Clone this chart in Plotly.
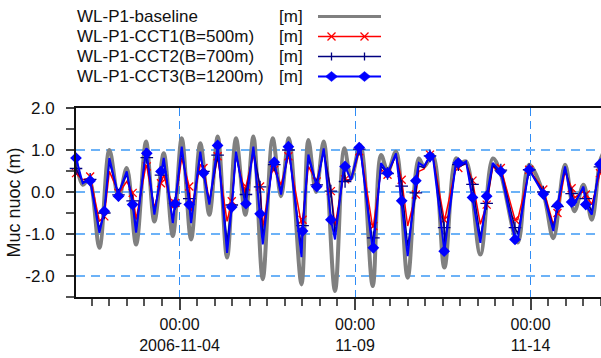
import plotly.graph_objects as go
import pandas as pd

# ---------------- data ----------------
ext_times = [
    "2006-11-01 01:12", "2006-11-01 05:48", "2006-11-01 10:06", "2006-11-01 17:12",
    "2006-11-02 00:00", "2006-11-02 06:24", "2006-11-02 11:54", "2006-11-02 18:18",
    "2006-11-03 01:06", "2006-11-03 06:48", "2006-11-03 13:12", "2006-11-03 19:24",
    "2006-11-04 01:30", "2006-11-04 07:54", "2006-11-04 14:12", "2006-11-04 20:24",
    "2006-11-05 02:06", "2006-11-05 08:30", "2006-11-05 14:36", "2006-11-05 21:00",
    "2006-11-06 02:30", "2006-11-06 08:54", "2006-11-06 15:42", "2006-11-06 21:24",
    "2006-11-07 02:42", "2006-11-07 11:24", "2006-11-07 16:06", "2006-11-07 21:18",
    "2006-11-08 02:36", "2006-11-08 10:18", "2006-11-08 16:42", "2006-11-08 21:18",
    "2006-11-09 03:36", "2006-11-09 12:06", "2006-11-09 17:48", "2006-11-09 22:24",
    "2006-11-10 04:00", "2006-11-10 12:00", "2006-11-10 19:36", "2006-11-10 23:12",
    "2006-11-11 05:06", "2006-11-11 13:06", "2006-11-11 21:06", "2006-11-12 00:30",
    "2006-11-12 03:54", "2006-11-12 13:42", "2006-11-12 22:12", "2006-11-13 03:12",
    "2006-11-13 15:18", "2006-11-13 23:00", "2006-11-14 08:54", "2006-11-14 15:36",
    "2006-11-14 23:36", "2006-11-15 06:00", "2006-11-15 12:12", "2006-11-15 17:54",
    "2006-11-15 23:30", "2006-11-16 02:00",
]
baseline = [
    0.77, 0.17, 0.30, -1.33, 1.00, -0.14, 0.57, -1.25,
    1.20, -0.70, 0.92, -1.05, 1.28, -1.13, 1.16, -0.54,
    1.32, -1.56, 1.28, -0.54, 1.32, -2.08, 1.28, -0.10,
    1.28, -2.20, 1.24, 0.00, 1.20, -2.36, 1.04, 0.33,
    1.12, -2.24, 0.88, 0.49, 0.96, -2.04, 0.80, 0.60,
    0.88, -1.80, 0.80, 0.70, 0.73, -1.49, 0.80, 0.49,
    -1.20, 0.65, -0.05, -1.10, 0.65, -0.46, 0.17, -0.66,
    0.73, 0.95,
]
cct1 = [
    0.45, 0.29, 0.33, -0.70, 0.49, -0.02, 0.25, -0.66,
    0.65, -0.38, 0.41, -0.38, 0.81, -0.46, 0.65, -0.22,
    0.81, -0.70, 0.89, -0.06, 0.89, -0.85, 0.61, 0.17,
    0.89, -0.77, 0.61, 0.25, 0.96, -0.81, 0.49, 0.29,
    1.04, -0.85, 0.53, 0.41, 0.89, -0.81, 0.49, 0.55,
    0.89, -0.70, 0.61, 0.62, 0.69, -0.77, 0.61, 0.45,
    -0.66, 0.49, 0.05, -0.77, 0.49, -0.14, 0.02, -0.30,
    0.49, 0.65,
]
cct2 = [
    0.60, 0.24, 0.30, -0.88, 0.72, 0.00, 0.42, -0.88,
    0.94, -0.48, 0.72, -0.66, 0.98, -0.68, 0.88, -0.26,
    1.02, -1.20, 0.90, -0.22, 1.00, -1.10, 0.72, 0.02,
    1.00, -1.35, 0.80, 0.18, 0.98, -1.00, 0.62, 0.30,
    1.00, -1.22, 0.62, 0.43, 0.88, -1.30, 0.62, 0.58,
    0.86, -1.22, 0.68, 0.62, 0.70, -1.08, 0.64, 0.47,
    -1.00, 0.53, 0.00, -0.85, 0.57, -0.24, 0.10, -0.46,
    0.66, 0.82,
]
cct3 = [
    0.81, 0.21, 0.29, -0.97, 0.81, -0.02, 0.49, -0.97,
    1.04, -0.54, 0.81, -0.74, 1.08, -0.74, 0.96, -0.30,
    1.12, -1.45, 0.96, -0.30, 1.08, -1.25, 0.77, -0.06,
    1.08, -1.55, 0.89, 0.13, 1.04, -1.13, 0.69, 0.29,
    1.06, -1.41, 0.69, 0.45, 0.92, -1.53, 0.69, 0.61,
    0.89, -1.41, 0.73, 0.65, 0.73, -1.21, 0.69, 0.49,
    -1.13, 0.57, -0.05, -0.93, 0.61, -0.30, 0.13, -0.54,
    0.73, 0.90,
]

# marker positions (evenly spaced along the time axis, as in the picture)
marker_times = pd.date_range("2006-11-01 01:12", periods=38, freq="581min")
cct1_markers = [
    0.45, 0.37, -0.58, -0.02, -0.02, 0.61, 0.21, -0.26, 0.13, 0.57,
    0.85, -0.22, 0.13, 0.13, 0.53, 0.85, -0.66, 0.25, 0.02, 0.30,
    0.97, -0.81, 0.41, 0.29, -0.06, 0.89, -0.66, 0.57, 0.27, -0.30,
    0.57, -0.66, 0.53, 0.06, -0.50, 0.09, -0.06, 0.45,
]
cct2_markers = [
    0.56, 0.30, -0.50, -0.07, -0.21, 0.82, 0.40, -0.27, -0.16, 0.49,
    0.88, -0.31, -0.06, 0.12, 0.65, 1.00, -0.80, 0.17, 0.02, 0.25,
    1.02, -1.09, 0.44, 0.14, -0.02, 0.86, -0.85, 0.65, 0.18, -0.27,
    0.52, -0.85, 0.53, 0.00, -0.35, -0.04, -0.16, 0.60,
]
cct3_markers = [
    0.81, 0.27, -0.46, -0.10, -0.30, 0.92, 0.49, -0.28, -0.30, 0.45,
    1.11, -0.36, -0.28, -0.52, 0.71, 1.08, -0.93, 0.13, -0.66, 0.61,
    1.06, -1.33, 0.45, -0.21, 0.27, 0.85, -1.41, 0.69, -0.13, -0.10,
    0.49, -1.13, 0.53, -0.05, -0.32, -0.24, -0.30, 0.66,
]

series_names = ["WL-P1-baseline", "WL-P1-CCT1(B=500m)",
                "WL-P1-CCT2(B=700m)", "WL-P1-CCT3(B=1200m)"]
unit_label = "[m]"
y_title = "Muc nuoc (m)"
x_tick_vals = ["2006-11-04", "2006-11-09", "2006-11-14"]
x_tick_text = ["00:00<br>2006-11-04", "00:00<br>11-09", "00:00<br>11-14"]
y_tick_vals = [-2, -1, 0, 1, 2]
y_tick_text = ["-2.0", "-1.0", "0.0", "1.0", "2.0"]
x_range = ["2006-11-01 01:12", "2006-11-16 00:12"]
y_range = [-2.5, 2.0]

# ---------------- styling ----------------
FONT = "Liberation Sans, Arial, sans-serif"
C_BASE, C1, C2, C3 = "#808080", "#ff0000", "#000080", "#0000ff"


def merged(times, vals, mtimes, mvals):
    df = pd.DataFrame({"t": list(pd.to_datetime(times)) + list(mtimes),
                       "v": list(vals) + list(mvals)}).sort_values("t")
    return df["t"], df["v"]


fig = go.Figure()
fig.add_trace(go.Scatter(x=pd.to_datetime(ext_times), y=baseline, mode="lines",
                         line=dict(color=C_BASE, width=4, shape="spline", smoothing=1.0),
                         showlegend=False))
for vals, mvals, col, lw, sym, msize, mlw in [
    (cct1, cct1_markers, C1, 1.5, "x-thin", 8, 1.3),
    (cct2, cct2_markers, C2, 1.5, "cross-thin", 9, 1.3),
    (cct3, cct3_markers, C3, 2, "diamond", 9, 0),
]:
    tx, vy = merged(ext_times, vals, marker_times, mvals)
    fig.add_trace(go.Scatter(x=tx, y=vy, mode="lines",
                             line=dict(color=col, width=lw), showlegend=False))
    fig.add_trace(go.Scatter(x=marker_times, y=mvals, mode="markers", cliponaxis=False,
                             marker=dict(symbol=sym, size=msize, color=col,
                                         line=dict(color=col, width=mlw)),
                             showlegend=False))

# plot-area geometry in pixels (for legend placement)
L, R, T, B = 76, 601, 108, 297
W, H = 601, 358


def px(x):
    return (x - L) / (R - L)


def py(y):
    return (B - y) / (B - T)


shapes = []
annotations = []
row_y = [16.5, 36.5, 56.5, 76.5]
line_cols = [C_BASE, C1, C2, C3]
line_w = [3, 1.5, 1.5, 2]
for i, name in enumerate(series_names):
    yy = row_y[i]
    annotations.append(dict(x=px(75), y=py(yy), xref="paper", yref="paper", text=name,
                            showarrow=False, xanchor="left", yanchor="middle",
                            font=dict(size=17, color="#111", family=FONT)))
    annotations.append(dict(x=px(277), y=py(yy), xref="paper", yref="paper", text=unit_label,
                            showarrow=False, xanchor="left", yanchor="middle",
                            font=dict(size=17, color="#111", family=FONT)))
    shapes.append(dict(type="line", xref="paper", yref="paper", x0=px(318), x1=px(381),
                       y0=py(yy), y1=py(yy), line=dict(color=line_cols[i], width=line_w[i])))
    for cx in (331.5, 364.5):
        if i == 1:
            for dy in (-4, 4):
                shapes.append(dict(type="line", xref="paper", yref="paper",
                                   x0=px(cx - 4), x1=px(cx + 4), y0=py(yy - dy), y1=py(yy + dy),
                                   line=dict(color=C1, width=1.3)))
        elif i == 2:
            shapes.append(dict(type="line", xref="paper", yref="paper",
                               x0=px(cx), x1=px(cx), y0=py(yy - 4), y1=py(yy + 4),
                               line=dict(color=C2, width=1.3)))
        elif i == 3:
            path = "M {} {} L {} {} L {} {} L {} {} Z".format(
                px(cx - 6), py(yy), px(cx), py(yy - 5), px(cx + 6), py(yy), px(cx), py(yy + 5))
            shapes.append(dict(type="path", xref="paper", yref="paper", path=path,
                               fillcolor=C3, line=dict(color=C3, width=0.5)))

fig.update_layout(
    width=W, height=H,
    margin=dict(l=L, r=W - R, t=T, b=H - B, autoexpand=False),
    paper_bgcolor="white", plot_bgcolor="white",
    font=dict(family=FONT, color="#111"),
    shapes=shapes, annotations=annotations,
    xaxis=dict(type="date", range=x_range, tickmode="array", tickvals=x_tick_vals,
               ticktext=x_tick_text, ticks="outside", ticklen=11, tickwidth=1.5,
               tickcolor="#444", tickfont=dict(size=16, family=FONT, color="#111"),
               ticklabelstandoff=1, automargin=False,
               showline=True, linecolor="#111", linewidth=2, mirror=True,
               showgrid=True, gridcolor="#2f8cf5", gridwidth=1.3, griddash="8px,5px",
               zeroline=False,
               minor=dict(dtick=12 * 3600 * 1000, tick0="2006-11-01", ticks="outside",
                          ticklen=7, tickwidth=1.5, tickcolor="#555", showgrid=False)),
    yaxis=dict(range=y_range, tickmode="array", tickvals=y_tick_vals, ticktext=y_tick_text,
               ticks="outside", ticklen=8, tickwidth=1.5, tickcolor="#444",
               tickfont=dict(size=17, family=FONT, color="#111"),
               ticklabelstandoff=8, automargin=False,
               showline=True, linecolor="#111", linewidth=2, mirror=False,
               showgrid=True, gridcolor="#6cb2f7", gridwidth=2, griddash="9px,6px",
               zeroline=False,
               title=dict(text=y_title, font=dict(size=18, family=FONT, color="#111"),
                          standoff=0),
               minor=dict(dtick=0.5, tick0=0, ticks="outside", ticklen=8, tickwidth=1.5,
                          tickcolor="#555", showgrid=False)),
)

fig.write_html("out.html", config={"displayModeBar": False},
               post_script="document.body.style.margin='0';")
